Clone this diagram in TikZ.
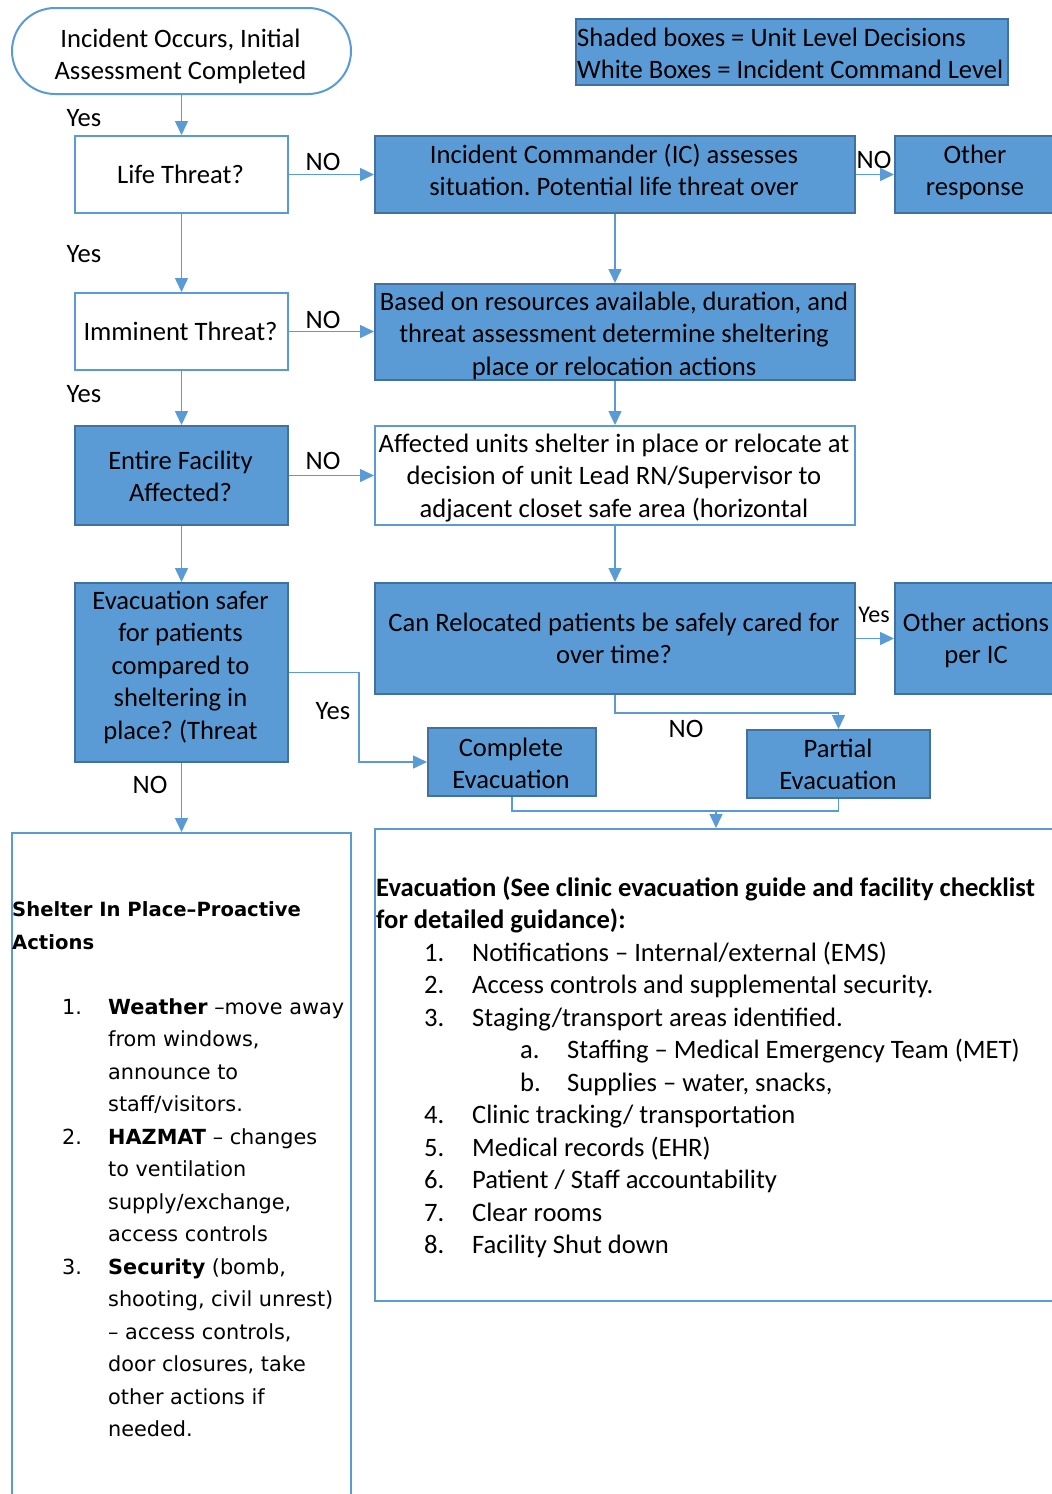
\documentclass[tikz,border=0pt]{standalone}
\usepackage{fontspec}
\setmainfont{Carlito}
\newfontfamily\verd{DejaVu Sans}
\usetikzlibrary{arrows.meta}
\definecolor{accent}{HTML}{5B9BD5}
\definecolor{accdark}{HTML}{41719C}
\newcommand\fs{\fontsize{26.6}{32.5}\selectfont}
\newcommand\fv{\verd\fontsize{20.8}{32.5}\selectfont}
\newcommand\fvh{\verd\fontsize{19.6}{33}\selectfont}
\newcommand\ml[1]{\begin{tabular}[t]{@{}c@{}}#1\end{tabular}}
\frenchspacing
\begin{document}
\frenchspacing
\begin{tikzpicture}[x=1pt,y=-1pt,
  shadedbox/.style={draw=accdark, fill=accent, line width=2pt, inner sep=0pt, anchor=north west},
  plainbox/.style={draw=accent, fill=white, line width=2pt, inner sep=0pt, anchor=north west},
  conn/.style={draw=accent, line width=1.5pt, -{Triangle[length=14pt,width=13pt]}},
  seg/.style={draw=accent, line width=1.5pt},
  txt/.style={inner sep=0pt, font=\fs, anchor=base},
  lbl/.style={inner sep=0pt, font=\fs, anchor=base}]
\clip (0,0) rectangle (1052,1494);
\fill[white] (0,0) rectangle (1052,1494);

% boxes
\node[plainbox, rounded corners=43pt, minimum width=339pt, minimum height=86pt] (start) at (11,7) {};
\node[shadedbox, line width=1.5pt, minimum width=432pt, minimum height=66pt] (legend) at (575,18) {};
\node[plainbox, minimum width=213pt, minimum height=77pt] (life) at (74,135) {};
\node[shadedbox, minimum width=480pt, minimum height=77pt] (ic) at (374,135) {};
\node[shadedbox, minimum width=170pt, minimum height=77pt] (othr) at (894,135) {};
\node[plainbox, minimum width=213pt, minimum height=77pt] (imm) at (74,292) {};
\node[shadedbox, minimum width=480pt, minimum height=96pt] (based) at (374,283) {};
\node[shadedbox, minimum width=213pt, minimum height=99pt] (ent) at (74,425) {};
\node[plainbox, minimum width=480pt, minimum height=99pt] (aff) at (374,425) {};
\node[shadedbox, minimum width=213pt, minimum height=179pt] (evs) at (74,582) {};
\node[shadedbox, minimum width=480pt, minimum height=111pt] (can) at (374,582) {};
\node[shadedbox, minimum width=170pt, minimum height=111pt] (otha) at (894,582) {};
\node[shadedbox, minimum width=168pt, minimum height=68pt] (comp) at (427,727) {};
\node[shadedbox, minimum width=183pt, minimum height=68pt] (part) at (746,729) {};
\node[plainbox, minimum width=339pt, minimum height=680pt] (shel) at (11,832) {};
\node[plainbox, minimum width=700pt, minimum height=472pt] (evac) at (374,828) {};

% texts
\node[txt] (startT) at (180.5,47) {\ml{Incident Occurs, Initial\\Assessment Completed}};
\node[txt, anchor=base west] (legendT) at (577,46) {\begin{tabular}[t]{@{}l@{}}Shaded boxes = Unit Level Decisions\\White Boxes = Incident Command Level\end{tabular}};
\node[txt] (lifeT) at (180.5,183) {Life Threat?};
\node[txt] (icT) at (614,163) {\ml{Incident Commander (IC) assesses\\situation. Potential life threat over}};
\node[txt] (othrT) at (975,163) {\ml{Other\\response}};
\node[txt] (immT) at (180.5,340) {Imminent Threat?};
\node[txt] (basedT) at (614,310) {\ml{Based on resources available, duration, and\\threat assessment determine sheltering\\place or relocation actions}};
\node[txt] (entT) at (180.5,469) {\ml{Entire Facility\\Affected?}};
\node[txt] (affT) at (614,452) {\ml{Affected units shelter in place or relocate at\\decision of unit Lead RN/Supervisor to\\adjacent closet safe area (horizontal}};
\node[txt] (evsT) at (180.5,609) {\ml{Evacuation safer\\for patients\\compared to\\sheltering in\\place? (Threat}};
\node[txt] (canT) at (614,631) {\ml{Can Relocated patients be safely cared for\\over time?}};
\node[txt] (othaT) at (976,631) {\ml{Other actions\\per IC}};
\node[txt] (compT) at (511,756) {\ml{Complete\\Evacuation}};
\node[txt] (partT) at (838,757) {\ml{Partial\\Evacuation}};

% shelter text
\node[inner sep=0pt, anchor=base west, font=\fvh] (shelH) at (12,916) {\begin{tabular}[t]{@{}l@{}}\textbf{Shelter In Place–Proactive}\\\textbf{Actions}\end{tabular}};
\node[inner sep=0pt, anchor=base west, font=\fv] (shelL) at (62,1014) {\begin{tabular}[t]{@{}p{46pt}@{}l@{}}
1. & \textbf{Weather} –move away\\
 & from windows,\\
 & announce to\\
 & staff/visitors.\\
2. & \textbf{HAZMAT} – changes\\
 & to ventilation\\
 & supply/exchange,\\
 & access controls\\
3. & \textbf{Security} (bomb,\\
 & shooting, civil unrest)\\
 & – access controls,\\
 & door closures, take\\
 & other actions if\\
 & needed.
\end{tabular}};

% evacuation text
\node[inner sep=0pt, anchor=base west, font=\fs] (evacH) at (376,896) {\begin{tabular}[t]{@{}l@{}}\textbf{Evacuation (See clinic evacuation guide and facility checklist}\\\textbf{for detailed guidance):}\end{tabular}};
\node[inner sep=0pt, anchor=base west, font=\fs] (evacL) at (424,961) {\begin{tabular}[t]{@{}p{48pt}@{}l@{}}
1. & Notifications – Internal/external (EMS)\\
2. & Access controls and supplemental security.\\
3. & Staging/transport areas identified.\\
 & \hspace*{48pt}\makebox[47pt][l]{a.}Staffing – Medical Emergency Team (MET)\\
 & \hspace*{48pt}\makebox[47pt][l]{b.}Supplies – water, snacks,\\
4. & Clinic tracking/ transportation\\
5. & Medical records (EHR)\\
6. & Patient / Staff accountability\\
7. & Clear rooms\\
8. & Facility Shut down
\end{tabular}};

% connectors
\draw[conn] (start.south) -- (life.north);
\draw[conn] (life.east) -- (ic.west);
\draw[conn] (ic.south) -- (based.north);
\draw[conn] (ic.east) -- (ic.east -| othr.west);
\draw[conn] (life.south) -- (imm.north);
\draw[conn] (imm.east) -- (imm.east -| based.west);
\draw[conn] (based.south) -- (aff.north);
\draw[conn] (imm.south) -- (ent.north);
\draw[conn] (ent.east) -- (ent.east -| aff.west);
\draw[conn] (ent.south) -- (evs.north);
\draw[conn] (aff.south) -- (can.north);
\draw[conn] (can.east) -- (can.east -| otha.west);
\draw[conn] (can.south) -- ++(0,18) -| (part.north);
\draw[conn] (evs.east) -- ++(70,0) |- (comp.west);
\draw[conn] (evs.south) -- (shel.north);
\coordinate (mrg) at (716,811);
\draw[seg] (comp.south) |- (mrg) -| (part.south);
\draw[conn] (mrg) -- (mrg |- evac.north);

% labels
\node[lbl] (y1) at (84,126) {Yes};
\node[lbl] (y2) at (84,262) {Yes};
\node[lbl] (y3) at (84,402) {Yes};
\node[lbl] (n1) at (323,170) {NO};
\node[lbl] (n2) at (323,328) {NO};
\node[lbl] (n3) at (323,469) {NO};
\node[lbl] (n4) at (874,168) {NO};
\node[lbl, font=\fontsize{24}{28}\selectfont] (y4) at (874,622) {Yes};
\node[lbl] (y5) at (333,719) {Yes};
\node[lbl] (n5) at (686,737) {NO};
\node[lbl] (n6) at (150,793) {NO};
\end{tikzpicture}
\end{document}
